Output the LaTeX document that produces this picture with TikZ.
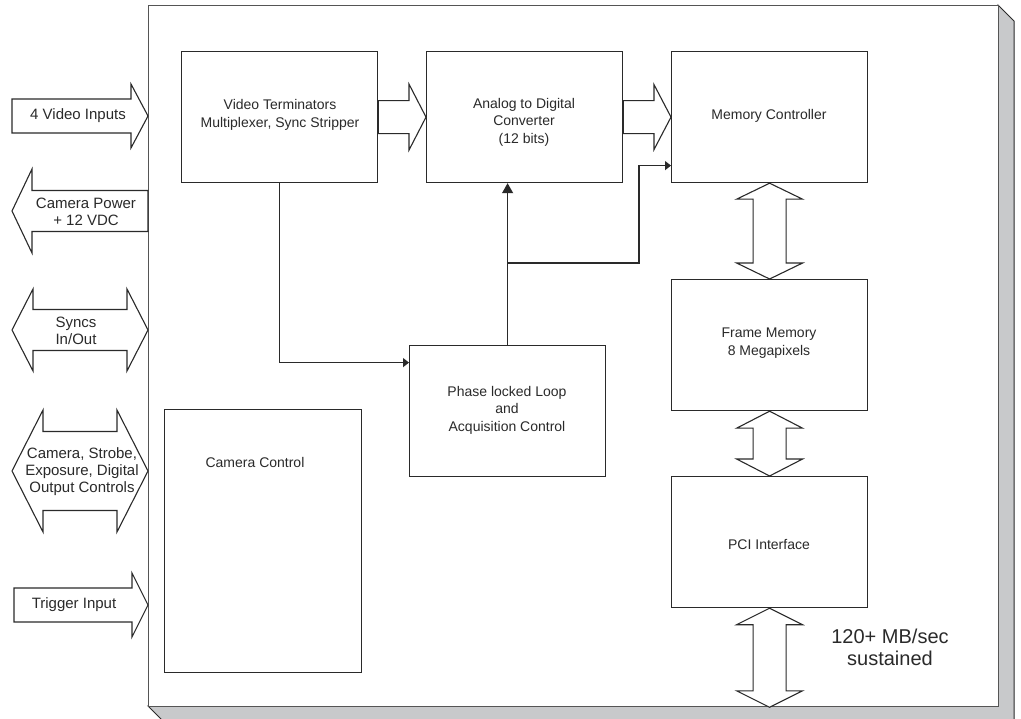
\documentclass[tikz,border=0pt]{standalone}
\usepackage{fontspec}
\setmainfont{Liberation Sans}
\usetikzlibrary{calc,arrows.meta}
\definecolor{ink}{HTML}{2A2A2A}
\definecolor{rim}{HTML}{555555}
\definecolor{shade}{HTML}{C8C9CB}

% block arrows: #1,#2 end points, #3 shaft half width, #4 head half width, #5 head length
\newcommand\blkright[5]{\draw[blk] let \p1=(#1),\p2=(#2) in
  (\x1,\y1+#3) -- (\x2-#5,\y1+#3) -- (\x2-#5,\y1+#4) -- (\x2,\y1)
  -- (\x2-#5,\y1-#4) -- (\x2-#5,\y1-#3) -- (\x1,\y1-#3) -- cycle;}
\newcommand\blkleft[5]{\draw[blk] let \p1=(#1),\p2=(#2) in
  (\x1,\y1) -- (\x1+#5,\y1+#4) -- (\x1+#5,\y1+#3) -- (\x2,\y1+#3)
  -- (\x2,\y1-#3) -- (\x1+#5,\y1-#3) -- (\x1+#5,\y1-#4) -- cycle;}
\newcommand\blkboth[5]{\draw[blk] let \p1=(#1),\p2=(#2) in
  (\x1,\y1) -- (\x1+#5,\y1+#4) -- (\x1+#5,\y1+#3) -- (\x2-#5,\y1+#3)
  -- (\x2-#5,\y1+#4) -- (\x2,\y1) -- (\x2-#5,\y1-#4) -- (\x2-#5,\y1-#3)
  -- (\x1+#5,\y1-#3) -- (\x1+#5,\y1-#4) -- cycle;}
\newcommand\blkvert[5]{\draw[blk] let \p1=(#1),\p2=(#2) in
  (\x1,\y1) -- (\x1+#4,\y1-#5) -- (\x1+#3,\y1-#5) -- (\x1+#3,\y2+#5)
  -- (\x1+#4,\y2+#5) -- (\x1,\y2) -- (\x1-#4,\y2+#5) -- (\x1-#3,\y2+#5)
  -- (\x1-#3,\y1-#5) -- (\x1-#4,\y1-#5) -- cycle;}

\begin{document}
\begin{tikzpicture}[x=1pt,y=-1pt,
  box/.style={draw=ink, line width=1.2pt, inner sep=0pt, anchor=north west,
    minimum width=196pt, minimum height=131pt},
  boxtext/.style={text=ink, align=center, font=\fontsize{14}{17.5}\selectfont},
  sidetext/.style={text=ink, align=center, inner sep=0pt, font=\fontsize{15}{17}\selectfont},
  blk/.style={draw=ink, line width=1.1pt, line join=miter, fill=white},
  conn/.style={draw=ink, line width=1.2pt},
  tip/.style={-{Triangle[length=6pt,width=9pt]}}]
\useasboundingbox (0,0) rectangle (1021,719);

% board with its drop shadow
\filldraw[fill=shade, draw=ink, line width=1pt]
  (998,5) -- (1014,21) -- (1014,725) -- (167,725) -- (148,706) -- (998,706) -- cycle;
\node[draw=rim, line width=1.3pt, fill=white, inner sep=0pt, anchor=north west,
  minimum width=850pt, minimum height=701pt] (board) at (148,5) {};

% functional blocks
\node[box] (vt)  at (181,51) {};
\node[box] (adc) at (426,51) {};
\node[box] (mc)  at (671,51) {};
\node[box] (fm)  at (671,279) {};
\node[box] (pci) at (671,476) {};
\node[box] (pll) at (409,345) {};
\node[box, minimum width=197pt, minimum height=263pt] (cc) at (164,409) {};

\node[boxtext] (vt-t)  at (280,115) {Video Terminators\\Multiplexer, Sync Stripper};
\node[boxtext] (adc-t) at (524,122) {Analog to Digital\\Converter\\(12 bits)};
\node[boxtext] (mc-t)  at (769,116) {Memory Controller};
\node[boxtext] (fm-t)  at (769,343) {Frame Memory\\8 Megapixels};
\node[boxtext] (pll-t) at (507,410) {Phase locked Loop\\and\\Acquisition Control};
\node[boxtext] (cc-t)  at (255,462) {Camera Control};
\node[boxtext] (pci-t) at (769,545) {PCI Interface};
\node[text=ink, align=center, font=\fontsize{20}{22}\selectfont] (rate) at (890,647)
  {120+ MB/sec\\sustained};

% external signals on the left edge
\coordinate (vin-a) at (12,116);  \coordinate (vin-b) at (board.west |- vin-a);
\coordinate (pwr-a) at (12,211);  \coordinate (pwr-b) at (board.west |- pwr-a);
\coordinate (syn-a) at (12,330);  \coordinate (syn-b) at (board.west |- syn-a);
\coordinate (cam-a) at (12,471);  \coordinate (cam-b) at (board.west |- cam-a);
\coordinate (trg-a) at (14,605);  \coordinate (trg-b) at (board.west |- trg-a);
\blkright{vin-a}{vin-b}{17pt}{32pt}{17pt}
\blkleft{pwr-a}{pwr-b}{20.5pt}{42pt}{20pt}
\blkboth{syn-a}{syn-b}{20.5pt}{41pt}{21pt}
\blkboth{cam-a}{cam-b}{39.5pt}{61pt}{31pt}
\blkright{trg-a}{trg-b}{17pt}{32pt}{16pt}

\node[sidetext] (vin-t) at (78,116) {4 Video Inputs};
\node[sidetext] (pwr-t) at (86,212) {Camera Power\\+ 12 VDC};
\node[sidetext] (syn-t) at (76,331) {Syncs\\In/Out};
\node[sidetext] (cam-t) at (82,472) {Camera, Strobe,\\Exposure, Digital\\Output Controls};
\node[sidetext] (trg-t) at (74,605) {Trigger Input};

% data paths
\blkright{vt.east}{adc.west}{16.5pt}{33pt}{17pt}
\blkright{adc.east}{mc.west}{16.5pt}{32.5pt}{17pt}
\blkvert{mc.south}{fm.north}{16.5pt}{33pt}{16pt}
\blkvert{fm.south}{pci.north}{16.5pt}{33pt}{17pt}
\coordinate (bus) at (pci.south |- board.south);
\blkvert{pci.south}{bus}{16.5pt}{33pt}{16.5pt}

% sync and clock lines
\draw[conn, tip] (vt.south) |- ([yshift=48.5pt]pll.west);
\draw[conn, -{Triangle[length=10pt,width=11pt]}] (pll.north) -- (pll.north |- adc.south);
\coordinate (br) at ([yshift=82pt]pll.north);
\coordinate (mcin) at ([yshift=-48.5pt]mc.west);
\draw[conn, tip] (br) -| ([xshift=-32pt]mcin) -- (mcin);
\end{tikzpicture}
\end{document}
